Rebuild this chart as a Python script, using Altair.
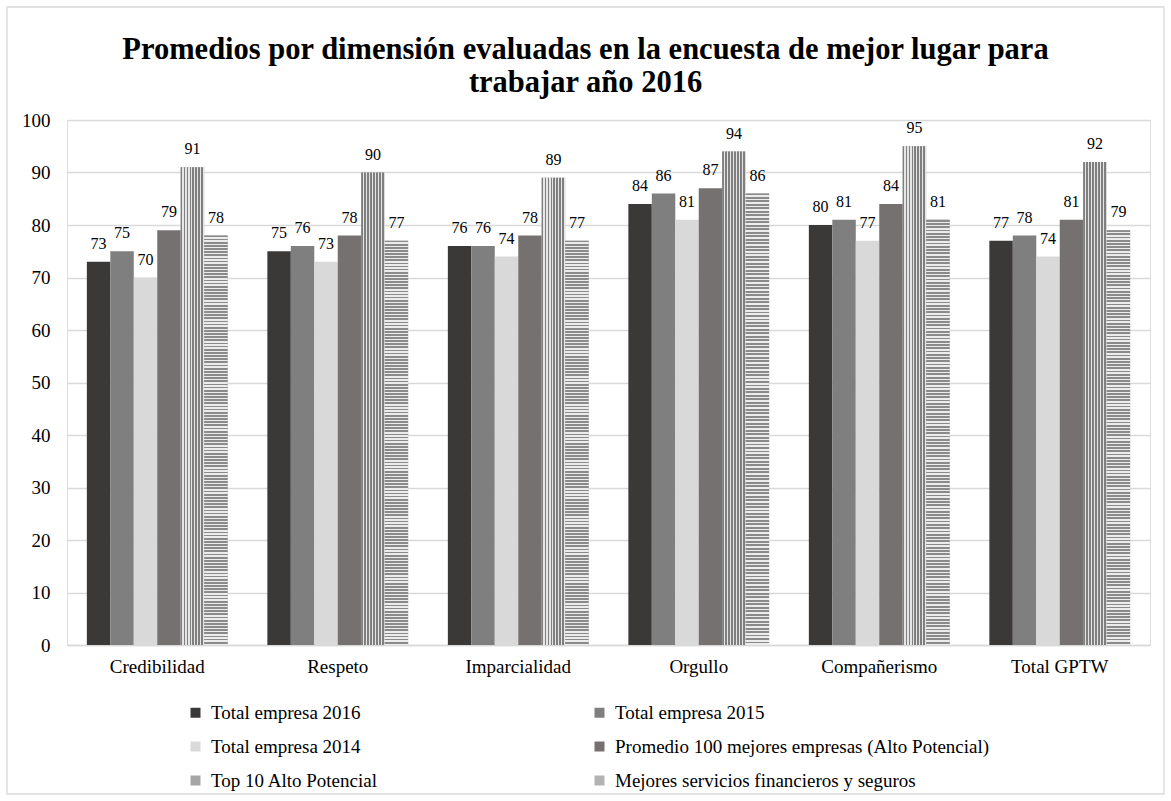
import altair as alt
import pandas as pd

categories = ["Credibilidad", "Respeto", "Imparcialidad", "Orgullo", "Compañerismo", "Total GPTW"]
series = [
    "Total empresa 2016",
    "Total empresa 2015",
    "Total empresa 2014",
    "Promedio 100 mejores empresas (Alto Potencial)",
    "Top 10 Alto Potencial",
    "Mejores servicios financieros y seguros",
]
v2016 = [73, 75, 76, 84, 80, 77]
v2015 = [75, 76, 76, 86, 81, 78]
v2014 = [70, 73, 74, 81, 77, 74]
vprom = [79, 78, 78, 87, 84, 81]
vtop10 = [91, 90, 89, 94, 95, 92]
vmejores = [78, 77, 77, 86, 81, 79]

colors = ["#3b3838", "#7f7f7f", "#d9d9d9", "#767171", "#a6a6a6", "#b3b3b3"]

rows = []
for s, vals in zip(series, [v2016, v2015, v2014, vprom, vtop10, vmejores]):
    for c, v in zip(categories, vals):
        rows.append({"categoria": c, "serie": s, "valor": v})
df = pd.DataFrame(rows)

FONT = "Liberation Serif"
W, H = 1083, 525


def stripes(n, dark, light, frac, vertical):
    stops = []
    for i in range(n):
        a = i / n
        b = (i + frac) / n
        c = (i + 1) / n
        stops += [
            alt.GradientStop(color=dark, offset=a),
            alt.GradientStop(color=dark, offset=b),
            alt.GradientStop(color=light, offset=b),
            alt.GradientStop(color=light, offset=c),
        ]
    if vertical:
        return alt.LinearGradient(gradient="linear", stops=stops, x1=0, x2=1, y1=0, y2=0)
    return alt.LinearGradient(gradient="linear", stops=stops, x1=0, x2=0, y1=0, y2=1)


x_enc = alt.X(
    "categoria:N",
    sort=categories,
    title=None,
    scale=alt.Scale(paddingInner=0.22, paddingOuter=0.11),
    axis=alt.Axis(
        labelAngle=0,
        labelFont=FONT,
        labelFontSize=19,
        labelColor="#000000",
        labelPadding=12,
        ticks=False,
        domainColor="#d9d9d9",
        domainWidth=1.3,
        grid=False,
    ),
)
xo_enc = alt.XOffset("serie:N", sort=series, scale=alt.Scale(domain=series, paddingInner=0, paddingOuter=0))
y_enc = alt.Y(
    "valor:Q",
    title=None,
    scale=alt.Scale(domain=[0, 100], nice=False),
    axis=alt.Axis(
        values=list(range(0, 101, 10)),
        labelFont=FONT,
        labelFontSize=19,
        labelColor="#000000",
        labelPadding=17,
        ticks=False,
        domain=False,
        gridColor="#d9d9d9",
        gridWidth=1.3,
    ),
)

base = alt.Chart(df)

bars = base.mark_bar().encode(
    x=x_enc,
    xOffset=xo_enc,
    y=y_enc,
    color=alt.Color(
        "serie:N",
        sort=series,
        scale=alt.Scale(domain=series, range=colors),
        legend=alt.Legend(
            title=None,
            orient="none",
            direction="horizontal",
            legendX=119,
            legendY=583,
            columns=2,
            columnPadding=211,
            rowPadding=14,
            symbolType="square",
            symbolSize=100,
            symbolStrokeWidth=0,
            labelFont=FONT,
            labelFontSize=19,
            labelColor="#000000",
            labelOffset=6,
            labelLimit=600,
        ),
    ),
)

top10 = base.transform_filter(alt.datum.serie == series[4]).mark_bar(
    fill=stripes(8, "#7f7f7f", "#e6e6e6", 0.6, True)
).encode(x=x_enc, xOffset=xo_enc, y=y_enc)

mejores = base.transform_filter(alt.datum.serie == series[5]).mark_bar(
    fill=stripes(130, "#8a8a8a", "#ececec", 0.55, False)
).encode(x=x_enc, xOffset=xo_enc, y=y_enc)

labels = base.mark_text(
    font=FONT, fontSize=16, color="#000000", baseline="alphabetic", dy=-13
).encode(x=x_enc, xOffset=xo_enc, y=y_enc, text=alt.Text("valor:Q"))

frame = alt.Chart(pd.DataFrame({"k": [0]})).mark_rect(
    fill="transparent", stroke="#d9d9d9", strokeWidth=1.3
).encode(
    x=alt.value(-60), x2=alt.value(W + 14),
    y=alt.value(-113), y2=alt.value(H + 149),
)

chart = (
    alt.layer(frame, bars, top10, mejores, labels)
    .properties(
        width=W,
        height=H,
        autosize=alt.AutoSizeParams(type="none"),
        padding={"left": 67, "top": 120, "right": 21, "bottom": 156},
        title=alt.TitleParams(
            text=[
                "Promedios por dimensión evaluadas en la encuesta de mejor lugar para",
                "trabajar año 2016",
            ],
            font=FONT,
            fontSize=30.5,
            fontWeight="bold",
            color="#000000",
            anchor="middle",
            dx=-23,
            offset=-92.6,
            lineHeight=33,
        ),
    )
    .configure_view(stroke=None)
    .configure(background="#ffffff")
)

chart.save("out.html", embed_options={"renderer": "svg", "actions": False})
